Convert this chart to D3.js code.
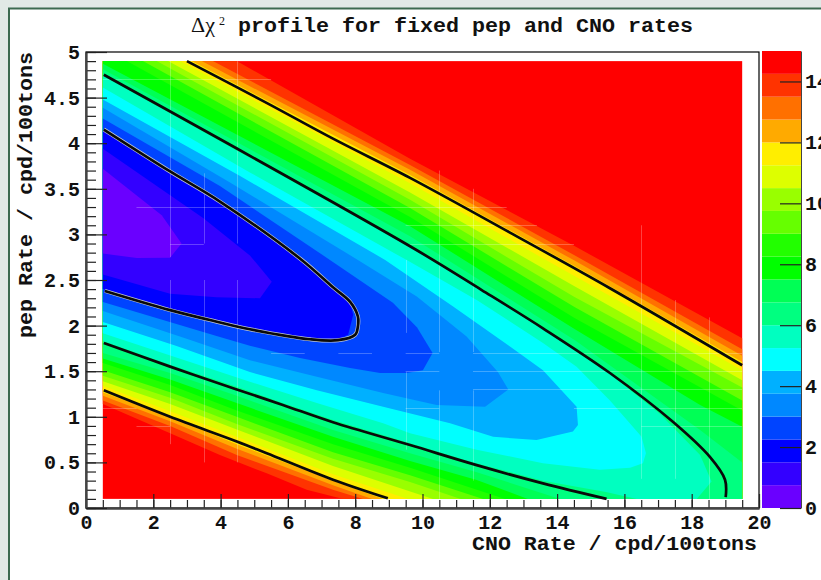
<!DOCTYPE html>
<html>
<head>
<meta charset="utf-8">
<script src="https://cdn.jsdelivr.net/npm/d3@7"></script>
<style>
  html, body { margin: 0; padding: 0; background: #e1e9e6; }
  svg { display: block; }
  text { font-family: "Liberation Mono", monospace; font-weight: bold; fill: #111; }
</style>
</head>
<body>
<div id="chart"></div>
<script>
// band colours, lowest band first. each band is 0.75 wide
const bandColors = ['#6a00ff', '#3300ff', '#0000ff', '#0044ff', '#0088ff', '#00b0ff', '#00ffff', '#00ffc0',
  '#00ff80', '#00ff55', '#00ff00', '#22ff00', '#66ff00', '#99ff00', '#ddff00', '#ffee00',
  '#ffaa00', '#ff7000', '#ff3300', '#ff0000'];
const bandStep = 0.75;

const xTicks = [0, 2, 4, 6, 8, 10, 12, 14, 16, 18, 20];
const yTicks = [0, 0.5, 1, 1.5, 2, 2.5, 3, 3.5, 4, 4.5, 5];
const barTicks = [0, 2, 4, 6, 8, 10, 12, 14];

// outlines of the region below each level, [CNO, pep]
const below075 = [[.5,3.72],[2.25,3.21],[2.84,2.9],[2.5,2.745],[1.51,2.74],[.5,2.79]];
const below150 = [[.5,3.94],[3.48,3.18],[4.87,2.77],[5.52,2.48],[5.17,2.3],[3.88,2.31],[2.5,2.35],[.5,2.56]];
const below225 = [[.5,4.14],[2.5,3.68],[3.98,3.35],[6.41,2.71],[7.34,2.41],[7.85,2.25],[7.94,2.12],[7.79,1.9],[7.49,1.85],[6.66,1.86],[4.87,1.97],[3.92,2.05],[2.5,2.18],[.5,2.4]];
const below300 = [[.5,4.27],[3.98,3.53],[7.25,2.72],[9.12,2.25],[9.84,1.98],[10.3,1.7],[10.01,1.51],[9.53,1.48],[8.74,1.48],[7.85,1.535],[6.36,1.645],[4.87,1.78],[3.98,1.875],[.5,2.26]];
const below375 = [[.5,4.39],[4.28,3.57],[8.08,2.72],[9.83,2.32],[11.31,1.88],[12.24,1.49],[12.55,1.3],[11.86,1.11],[10.42,1.13],[8.83,1.26],[6.86,1.44],[4.87,1.62],[2.88,1.87],[.5,2.16]];
const below450 = [[.5,4.48],[4.58,3.64],[8.89,2.72],[10.91,2.21],[12.6,1.77],[13.58,1.51],[14.58,1.11],[14.62,.91],[14.47,.84],[13.39,.745],[12.1,.78],[10.82,.93],[8.83,1.11],[6.86,1.29],[4.87,1.49],[2.67,1.78],[.5,2.04]];
const below525 = [[.5,4.61],[4.87,3.68],[9.57,2.71],[11.61,2.28],[13.58,1.81],[14.58,1.55],[15.57,1.18],[16.51,.78],[16.64,.6],[16.55,.49],[16.17,.44],[15.27,.42],[13.58,.49],[11.61,.64],[9.63,.82],[8.83,.93],[6.86,1.15],[4.87,1.385],[.5,1.915]];
const below600 = [[.5,4.74],[9.63,2.86],[11.76,2.38],[13.58,1.96],[15.57,1.47],[17.06,1.03],[18.25,.58],[18.59,.29],[18.15,.1],[16.37,.1],[15.45,.175],[13.58,.3],[11.59,.49],[9.63,.71],[7.34,.965],[5.85,1.15],[4.48,1.33],[2.5,1.57],[.5,1.83]];
const below675 = [[.5,4.81],[9.63,2.98],[14.53,1.84],[18.25,.855],[19.5,.5],[19.5,.1],[14.09,.1],[11.59,.395],[9.63,.6],[7.34,.855],[4.48,1.23],[2.5,1.48],[.5,1.7]];
const below750 = [[.5,4.87],[9.63,3.09],[14.53,1.96],[18.25,1.13],[19.5,.89],[19.5,.1],[13.13,.1],[11.59,.31],[9.63,.515],[7.34,.78],[4.48,1.15],[2.5,1.41],[.5,1.64]];
const below825 = [[.5,4.9],[1.21,4.9],[9.63,3.19],[14.53,2.08],[19.5,1.07],[19.5,.1],[12.45,.1],[9.63,.44],[7.34,.7],[4.48,1.07],[2.5,1.35],[.5,1.59]];
const below900 = [[.5,4.9],[1.69,4.9],[9.63,3.29],[14.53,2.2],[19.5,1.18],[19.5,.1],[11.8,.1],[9.63,.36],[7.34,.61],[4.48,1],[2.5,1.27],[.5,1.51]];
const below975 = [[.5,4.9],[2.1,4.9],[9.63,3.38],[14.53,2.31],[19.5,1.32],[19.5,.1],[11.14,.1],[9.63,.285],[7.34,.54],[4.48,.92],[2.5,1.21],[.5,1.45]];
const below1050 = [[.5,4.9],[2.44,4.9],[9.63,3.46],[14.53,2.43],[19.5,1.4],[19.5,.1],[10.31,.1],[7.34,.46],[4.48,.86],[2.5,1.14],[.5,1.39]];
const below1125 = [[.5,4.9],[2.79,4.9],[9.63,3.56],[14.53,2.54],[19.5,1.51],[19.5,.1],[9.57,.1],[7.34,.37],[4.48,.78],[2.5,1.06],[.5,1.34]];
const below1200 = [[.5,4.9],[3.14,4.9],[9.63,3.65],[14.53,2.65],[19.5,1.6],[19.5,.1],[8.83,.1],[7.34,.3],[4.48,.7],[2.5,1],[.5,1.27]];
const below1275 = [[.5,4.9],[3.44,4.9],[9.63,3.71],[14.53,2.71],[19.5,1.67],[19.5,.1],[8.5,.1],[7.34,.25],[4.48,.65],[2.5,.95],[.5,1.23]];
const below1350 = [[.5,4.9],[3.77,4.9],[9.63,3.76],[14.53,2.77],[19.5,1.74],[19.5,.1],[8.23,.1],[7.34,.2],[4.48,.58],[2.5,.9],[.5,1.18]];
const below1425 = [[.5,4.9],[4.48,4.9],[9.63,3.83],[14.53,2.87],[19.5,1.86],[19.5,.1],[7.64,.1],[6.56,.2],[5.37,.38],[3.98,.58],[2.5,.82],[.5,1.14]];

// the three black contours
const contourInner = [[.53,4.15],[2.5,3.69],[3.98,3.36],[6.41,2.72],[7.34,2.42],[7.85,2.26],[8.08,2.1],[8.08,1.99],[8,1.9],[7.49,1.84],[6.66,1.85],[4.87,1.96],[3.92,2.04],[2.5,2.17],[.56,2.38]];
const contourMidUpper = [[.53,4.75],[9.63,2.87],[11.76,2.39],[13.58,1.97],[15.57,1.48],[17.44,.945],[18.54,.56],[18.99,.31],[19.01,.12]];
const contourMidLower = [[.53,1.81],[2.5,1.55],[4.48,1.3],[5.85,1.13],[7.34,.94],[9.63,.69],[11.61,.47],[13.58,.27],[15.47,.1]];
const contourOuterUpper = [[3,4.9],[5.38,4.44],[7.34,4.05],[9.63,3.62],[12.6,3.02],[15.57,2.41],[19.5,1.565]];
const contourOuterLower = [[.53,1.29],[2.5,1],[4.48,.73],[5.37,.6],[7.34,.31],[8.97,.106]];

// pale lattice showing through the plot
const paleVertical = [[2.5,4.9,2.75],[2.5,2.5,.7],[3.5,3.67,2.9],[3.5,2.5,.5],[4.5,4.9,2.9],[4.5,2.5,.5],[9.5,2.72,1.92],[9.5,1.49,.64],[10.5,3.7,1.71],[10.5,1.29,.1],[11.5,3.5,1.71],[11.5,1.29,.3],[16.5,3.1,.32],[17.5,2.28,.32],[18.5,2.09,.1]];
const paleHorizontal = [[4.7,.5,5.5],[3.3,1.5,12.5],[3.1,9.5,13.4],[2.9,2.5,3.5],[2.9,9.5,14.5],[1.7,5.5,6.5],[1.7,7.5,8.5],[1.7,9.5,10.5],[1.7,11.5,19.5],[1.5,9.5,10.5],[1.5,11.5,19.5],[1.3,11.5,19.5],[1.1,.5,1.5],[1.1,9.5,10.5],[1.1,14.5,19.5],[.9,1.5,2.5],[.9,16.5,19.5]];

const width = 821, height = 580;
const svg = d3.select('#chart').append('svg').attr('width', width).attr('height', height);

// white panel with the green border, runs off the right and bottom
svg.append('rect')
  .attr('x', 9).attr('y', 8.5)
  .attr('width', width).attr('height', height)
  .attr('fill', '#fff')
  .attr('stroke', '#3c6a50')
  .attr('stroke-width', 2);

const x = d3.scaleLinear().domain([0, 20]).range([86, 759]);
const y = d3.scaleLinear().domain([0, 5]).range([508, 52]);
const z = d3.scaleLinear().domain([0, 15]).range([508, 51]);

// --- Filled bands, outermost first ---
const outlines = [below1425, below1350, below1275, below1200, below1125, below1050, below975, below900, below825,
  below750, below675, below600, below525, below450, below375, below300, below225, below150, below075];
const topBand = bandColors.length - 1;
const area = d3.line().x(d => x(d[0])).y(d => y(d[1]));

svg.append('rect')
  .attr('x', x(0.5)).attr('y', y(4.9))
  .attr('width', x(19.5) - x(0.5)).attr('height', y(0.1) - y(4.9))
  .attr('fill', bandColors[topBand]);
svg.append('g').selectAll('path')
  .data(outlines)
  .join('path')
  .attr('d', d => area(d) + 'Z')
  .attr('fill', (d, i) => bandColors[topBand - 1 - i]);

// --- Pale lattice ---
const pale = svg.append('g').attr('stroke', '#fff').attr('stroke-opacity', 0.25).attr('stroke-width', 1);
pale.selectAll('.v').data(paleVertical).join('line').attr('class', 'v')
  .attr('x1', d => Math.round(x(d[0])) + 0.5).attr('x2', d => Math.round(x(d[0])) + 0.5)
  .attr('y1', d => y(d[1])).attr('y2', d => y(d[2]));
pale.selectAll('.h').data(paleHorizontal).join('line').attr('class', 'h')
  .attr('y1', d => Math.round(y(d[0])) + 0.5).attr('y2', d => Math.round(y(d[0])) + 0.5)
  .attr('x1', d => x(d[1])).attr('x2', d => x(d[2]));

// --- Contours ---
const contourLine = d3.line().x(d => x(d[0])).y(d => y(d[1])).curve(d3.curveCatmullRom.alpha(0.5));
svg.append('path').attr('d', contourLine(contourInner))
  .attr('fill', 'none').attr('stroke', '#c0c8d6').attr('stroke-width', 4);
[contourInner, contourMidUpper, contourMidLower, contourOuterUpper, contourOuterLower].forEach(c => {
  svg.append('path').attr('d', contourLine(c))
    .attr('fill', 'none').attr('stroke', '#0a0a0a').attr('stroke-width', 2.7);
});

// --- Frame and axes ---
svg.append('rect')
  .attr('x', x(0)).attr('y', y(5))
  .attr('width', x(20) - x(0)).attr('height', y(0) - y(5))
  .attr('fill', 'none').attr('stroke', '#000').attr('stroke-width', 1.2);

function styleAxis(g) {
  g.select('.domain').attr('stroke', '#444').attr('stroke-width', 1.8);
  g.selectAll('.tick line').attr('stroke', '#222').attr('stroke-width', 1.2);
  g.selectAll('text').attr('font-size', 20).attr('font-family', '"Liberation Mono", monospace').attr('font-weight', 'bold').attr('fill', '#111');
}

svg.append('g').attr('transform', `translate(0,${y(0)})`)
  .call(d3.axisBottom(x).tickValues(d3.range(0, 20.01, 0.5)).tickFormat('').tickSizeInner(-8).tickSizeOuter(0))
  .call(styleAxis);
svg.append('g').attr('transform', `translate(0,${y(0)})`)
  .call(d3.axisBottom(x).tickValues(xTicks).tickFormat(d => d).tickSizeInner(-14).tickSizeOuter(0).tickPadding(7))
  .call(styleAxis);
svg.append('g').attr('transform', `translate(${x(0)},0)`)
  .call(d3.axisLeft(y).tickValues(d3.range(0, 5.01, 0.1)).tickFormat('').tickSizeInner(-10).tickSizeOuter(0))
  .call(styleAxis);
svg.append('g').attr('transform', `translate(${x(0)},0)`)
  .call(d3.axisLeft(y).tickValues(yTicks).tickFormat(d => d).tickSizeInner(-21).tickSizeOuter(0).tickPadding(6))
  .call(styleAxis);

// --- Colour bar ---
svg.append('g').selectAll('rect')
  .data(bandColors)
  .join('rect')
  .attr('x', 762).attr('width', 39)
  .attr('y', (d, i) => z(bandStep * (i + 1)))
  .attr('height', (d, i) => z(bandStep * i) - z(bandStep * (i + 1)))
  .attr('fill', d => d);
svg.append('g').attr('transform', 'translate(801,0)')
  .call(d3.axisRight(z).tickValues(barTicks).tickFormat(d => d).tickSizeInner(-21).tickSizeOuter(0).tickPadding(4))
  .call(styleAxis)
  .call(g => g.select('.domain').attr('stroke', '#444').attr('stroke-width', 1));

// --- Titles ---
svg.append('text').attr('x', 191).attr('y', 32)
  .style('font-family', '"Liberation Serif", serif').style('font-weight', 'normal')
  .attr('font-size', 22).text('Δχ');
svg.append('text').attr('x', 219).attr('y', 25)
  .style('font-family', '"Liberation Serif", serif').style('font-weight', 'normal')
  .attr('font-size', 12).text('2');
svg.append('text').attr('x', 238).attr('y', 32)
  .attr('font-size', 20).attr('textLength', 455).attr('lengthAdjust', 'spacingAndGlyphs')
  .text('profile for fixed pep and CNO rates');
svg.append('text').attr('x', 472).attr('y', 550)
  .attr('font-size', 20).attr('textLength', 285).attr('lengthAdjust', 'spacingAndGlyphs')
  .text('CNO Rate / cpd/100tons');
svg.append('text')
  .attr('transform', 'translate(32,338) rotate(-90)')
  .attr('font-size', 20).attr('textLength', 286).attr('lengthAdjust', 'spacingAndGlyphs')
  .text('pep Rate / cpd/100tons');
</script>
</body>
</html>
